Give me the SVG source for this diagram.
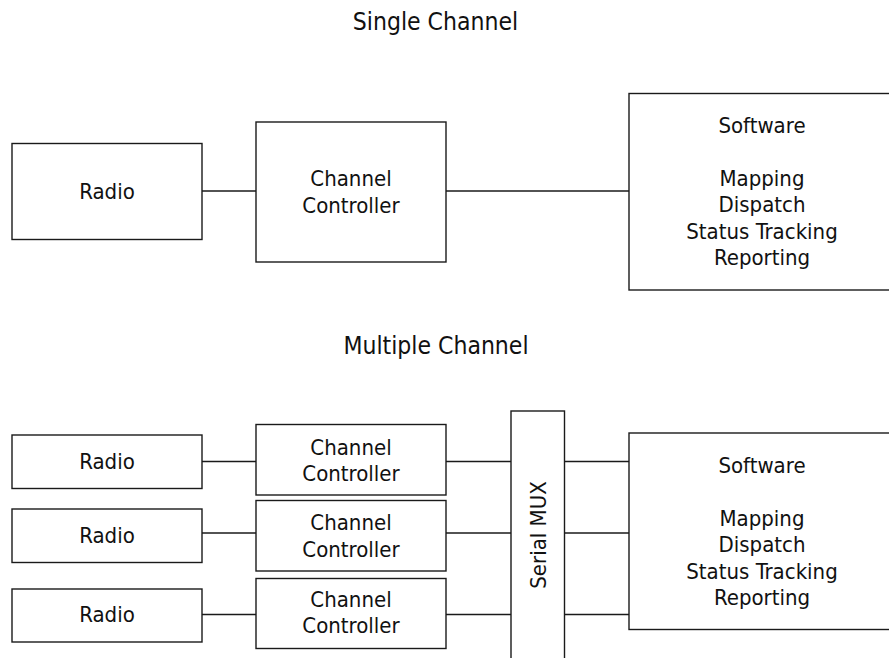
<svg xmlns="http://www.w3.org/2000/svg" width="889" height="658" viewBox="0 0 889 658">
<style>
.box{fill:#fff;stroke:#1a1a1a;stroke-width:1.4}
.ln{stroke:#1a1a1a;stroke-width:1.4;fill:none}
text{font-family:"DejaVu Sans Condensed","DejaVu Sans",sans-serif;font-size:22px;fill:#111;text-anchor:middle}
.title{font-size:24.5px}
</style>
<rect width="889" height="658" fill="#fff"/>
<text class="title" x="435.5" y="30">Single Channel</text>
<text class="title" x="436" y="354">Multiple Channel</text>
<g id="connectors">
<line class="ln" x1="202" y1="191" x2="256" y2="191"/>
<line class="ln" x1="446" y1="191" x2="629" y2="191"/>
<line class="ln" x1="202" y1="461.5" x2="256" y2="461.5"/>
<line class="ln" x1="202" y1="533" x2="256" y2="533"/>
<line class="ln" x1="202" y1="614.5" x2="256" y2="614.5"/>
<line class="ln" x1="446" y1="461.5" x2="511" y2="461.5"/>
<line class="ln" x1="446" y1="533" x2="511" y2="533"/>
<line class="ln" x1="446" y1="614.5" x2="511" y2="614.5"/>
<line class="ln" x1="564" y1="461.5" x2="629" y2="461.5"/>
<line class="ln" x1="564" y1="533" x2="629" y2="533"/>
<line class="ln" x1="564" y1="614.5" x2="629" y2="614.5"/>
</g>
<g id="radio0"><rect class="box" x="12" y="143.5" width="190" height="96"/><text x="107" y="199">Radio</text></g>
<g id="cc0"><rect class="box" x="256" y="122" width="190" height="140"/><text x="351" y="186">Channel</text><text x="351" y="213">Controller</text></g>
<g id="sw0"><rect class="box" x="629" y="93.5" width="270" height="196.5"/>
<text x="762" y="132.7">Software</text><text x="762" y="185.5">Mapping</text><text x="762" y="212">Dispatch</text><text x="762" y="238.5">Status Tracking</text><text x="762" y="265">Reporting</text></g>
<g id="radio1"><rect class="box" x="12" y="435" width="190" height="53.5"/><text x="107" y="468.5">Radio</text></g>
<g id="radio2"><rect class="box" x="12" y="509" width="190" height="53.5"/><text x="107" y="542.5">Radio</text></g>
<g id="radio3"><rect class="box" x="12" y="589" width="190" height="53"/><text x="107" y="622">Radio</text></g>
<g id="cc1"><rect class="box" x="256" y="424.5" width="190" height="70.5"/><text x="351" y="454.5">Channel</text><text x="351" y="481">Controller</text></g>
<g id="cc2"><rect class="box" x="256" y="500.5" width="190" height="70.5"/><text x="351" y="530">Channel</text><text x="351" y="556.7">Controller</text></g>
<g id="cc3"><rect class="box" x="256" y="578.5" width="190" height="70"/><text x="351" y="606.7">Channel</text><text x="351" y="633.3">Controller</text></g>
<g id="mux"><rect class="box" x="511" y="411" width="53.5" height="260"/><text transform="translate(546,535) rotate(-90)" x="0" y="0">Serial MUX</text></g>
<g id="sw1"><rect class="box" x="629" y="433" width="270" height="196.5"/>
<text x="762" y="472.7">Software</text><text x="762" y="525.5">Mapping</text><text x="762" y="552">Dispatch</text><text x="762" y="578.5">Status Tracking</text><text x="762" y="605">Reporting</text></g>
</svg>
